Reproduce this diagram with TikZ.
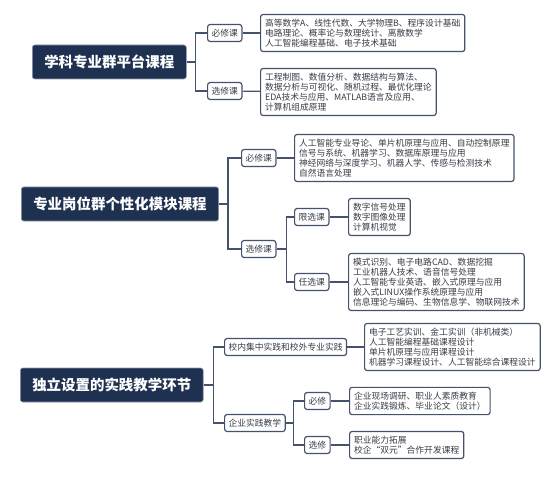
\documentclass[tikz,border=0pt]{standalone}
\usepackage{fontspec}
\setmainfont{Noto Sans CJK SC}
\definecolor{rootfill}{HTML}{1E3150}
\definecolor{edgeline}{HTML}{45526E}
\definecolor{bodytext}{HTML}{3A3A48}
\begin{document}
\begin{tikzpicture}[x=1bp,y=-1bp,
  every node/.style={font=\fontsize{8.8}{10}\selectfont,text=bodytext},
  rootbox/.style={fill=rootfill,draw=edgeline!60,line width=.6bp,rounded corners=2.5bp,anchor=west,
    text=white,font=\fontsize{14.5}{16}\selectfont\bfseries,inner xsep=12bp,minimum height=34bp},
  tagbox/.style={draw=edgeline,line width=1.2bp,rounded corners=2.5bp,anchor=west,
    inner xsep=4bp,inner ysep=2bp,minimum height=17bp},
  listbox/.style={draw=edgeline,line width=1.2bp,rounded corners=2.5bp,anchor=west,
    align=left,inner xsep=4.5bp,inner ysep=4.5bp},
  link/.style={draw=edgeline,line width=1.2bp}]
\useasboundingbox (0,0) rectangle (554,489);
% block 1
\node[rootbox] (r1) at (32,62) {学科专业群平台课程};
\node[tagbox] (r1a) at (207,33) {必修课};
\node[tagbox] (r1b) at (207,91) {选修课};
\node[listbox] (c1a) at (260,33) {高等数学A、线性代数、大学物理B、程序设计基础\\电路理论、概率论与数理统计、离散数学\\人工智能编程基础、电子技术基础};
\node[listbox] (c1b) at (260,92) {工程制图、数值分析、数据结构与算法、\\数据分析与可视化、随机过程、最优化理论\\EDA技术与应用、MATLAB语言及应用、\\计算机组成原理};
\draw[link] (r1.east) -- ([xshift=9bp]r1.east) |- (r1a.west);
\draw[link] (r1.east) -- ([xshift=9bp]r1.east) |- (r1b.west);
\draw[link] (r1a) -- (c1a);
\draw[link] (r1b) -- (c1b);
% block 2
\node[rootbox] (r2) at (21,204) {专业岗位群个性化模块课程};
\node[tagbox] (r2a) at (241,158) {必修课};
\node[tagbox] (r2b) at (241,249) {选修课};
\node[listbox] (c2a) at (294,158) {人工智能专业导论、单片机原理与应用、自动控制原理\\信号与系统、机器学习、数据库原理与应用\\神经网络与深度学习、机器人学、传感与检测技术\\自然语言处理};
\node[tagbox] (r2c) at (294,217) {限选课};
\node[tagbox] (r2d) at (294,282) {任选课};
\node[listbox] (c2c) at (348,217) {数字信号处理\\数字图像处理\\计算机视觉};
\node[listbox] (c2d) at (348,282) {模式识别、电子电路CAD、数据挖掘\\工业机器人技术、语音信号处理\\人工智能专业英语、嵌入式原理与应用\\嵌入式LINUX操作系统原理与应用\\信息理论与编码、生物信息学、物联网技术};
\draw[link] (r2.east) -- ([xshift=9bp]r2.east) |- (r2a.west);
\draw[link] (r2.east) -- ([xshift=9bp]r2.east) |- (r2b.west);
\draw[link] (r2a) -- (c2a);
\draw[link] (r2b.east) -- ([xshift=10bp]r2b.east) |- (r2c.west);
\draw[link] (r2b.east) -- ([xshift=10bp]r2b.east) |- (r2d.west);
\draw[link] (r2c) -- (c2c);
\draw[link] (r2d) -- (c2d);
% block 3
\node[rootbox] (r3) at (20,385) {独立设置的实践教学环节};
\node[tagbox] (r3a) at (224,347) {校内集中实践和校外专业实践};
\node[tagbox] (r3b) at (224,423) {企业实践教学};
\node[listbox] (c3a) at (364,347) {电子工艺实训、金工实训（非机械类）\\人工智能编程基础课程设计\\单片机原理与应用课程设计\\机器学习课程设计、人工智能综合课程设计};
\node[tagbox] (r3c) at (304,401) {必修};
\node[tagbox] (r3d) at (304,445) {选修};
\node[listbox] (c3c) at (349,401) {企业现场调研、职业人素质教育\\企业实践锻炼、毕业论文（设计）};
\node[listbox] (c3d) at (349,445) {职业能力拓展\\校企“双元”合作开发课程};
\draw[link] (r3.east) -- ([xshift=10bp]r3.east) |- (r3a.west);
\draw[link] (r3.east) -- ([xshift=10bp]r3.east) |- (r3b.west);
\draw[link] (r3a) -- (c3a);
\draw[link] (r3b.east) -- ([xshift=8bp]r3b.east) |- (r3c.west);
\draw[link] (r3b.east) -- ([xshift=8bp]r3b.east) |- (r3d.west);
\draw[link] (r3c) -- (c3c);
\draw[link] (r3d) -- (c3d);
\end{tikzpicture}
\end{document}
